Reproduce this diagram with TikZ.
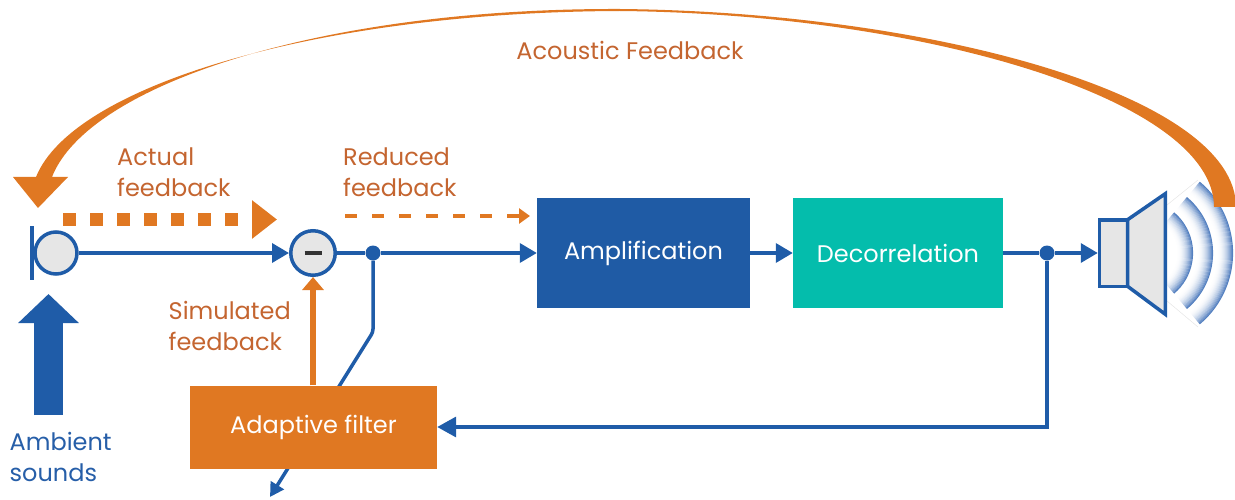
\documentclass[tikz,border=0pt]{standalone}
\usepackage{fontspec}
\setmainfont{Poppins}
\usetikzlibrary{arrows.meta}
\definecolor{cblue}{RGB}{31,92,168}
\definecolor{ampblue}{RGB}{31,91,165}
\definecolor{cteal}{RGB}{4,189,172}
\definecolor{corange}{RGB}{224,120,34}
\definecolor{lorange}{RGB}{196,101,48}
\definecolor{lblue}{RGB}{38,94,168}
\definecolor{cgray}{RGB}{230,230,230}
\definecolor{mgray}{RGB}{51,51,51}
\definecolor{wblue}{RGB}{84,128,192}
\begin{document}
\begin{tikzpicture}[x=1pt,y=-1pt,
  bline/.style={draw=cblue, line width=3.5pt},
  btip/.style={-{Triangle[length=17pt,width=19pt]}},
  dot/.style={circle, fill=cblue, minimum size=15pt, inner sep=0pt},
  procbox/.style={rectangle, inner sep=0pt, text=white, font=\fontsize{24}{29}\selectfont},
  lbl/.style={anchor=west, align=left, inner sep=0pt, text=lorange, font=\fontsize{24}{31}\selectfont},
  ring/.style={circle, draw=cblue, fill=cgray, line width=3.5pt, inner sep=0pt}]
\useasboundingbox (0,0) rectangle (1235,500);

% sound waves (graded arcs)
\coordinate (wc) at (1140,253);
\foreach \R in {53,73,93}{
  \foreach \k in {0,...,15}{
    \pgfmathsetmacro\rad{\R-16+\k+0.5}
    \pgfmathtruncatemacro\pc{100*((\k+1)/16)^2.2}
    \draw[wblue!\pc!white, line width=1.15pt] ([shift={(-50:\rad)}]wc) arc[start angle=-50,end angle=50,radius=\rad];
  }
}
\draw[gray!20, line width=0.5pt] (1167,205) -- (1198,180);
\draw[gray!20, line width=0.5pt] (1167,301) -- (1198,327);

% acoustic feedback arc
\fill[corange] (1236,207) .. controls (1236,95) and (930,12) .. (620,9)
  .. controls (320,8) and (88,85) .. (52,177) -- (68,177) -- (38,208) -- (13,177) -- (36,177)
  .. controls (73,85) and (320,12) .. (620,11)
  .. controls (925,14) and (1214,100) .. (1214,207) -- cycle;
\node[text=lorange, font=\fontsize{24}{29}\selectfont, inner sep=0pt] (acoustic) at (630,50) {Acoustic Feedback};

% microphone
\node[ring, minimum size=42pt] (mic) at (56,253) {};
\coordinate (micT) at (32,226);
\coordinate (micB) at (32,280);
\draw[cblue, line width=3.5pt] (micT) -- (micB);

% subtractor
\node[ring, minimum size=44.5pt] (minus) at (313,253) {};
\draw[mgray, line width=4.5pt] ([xshift=-8.5pt]minus.center) -- ([xshift=8.5pt]minus.center);

\node[dot] (j1) at (373,253) {};
\node[procbox, fill=ampblue, minimum width=213pt, minimum height=110pt] (amp) at (643.5,253) {Amplification};
\node[procbox, fill=cteal, minimum width=210pt, minimum height=110pt] (dec) at (898,253) {Decorrelation};
\node[dot] (j2) at (1047,253) {};

% loudspeaker
\node[rectangle, draw=cblue, fill=cgray, line width=3.5pt, outer sep=0pt, minimum width=28pt, minimum height=66.5pt, inner sep=0pt] (spk) at (1113.5,253) {};
\coordinate (coneT) at (1165.25,193.75);
\coordinate (coneB) at (1165.25,314.25);
\draw[cblue, fill=cgray, line width=3.5pt, line join=miter] (spk.north east) -- (coneT) -- (coneB) -- (spk.south east) -- cycle;

% adaptive-filter update line (behind the filter box)
\coordinate (kink) at (373,332);
\coordinate (adout) at (270,497);
\draw[bline, rounded corners=3pt, -{Triangle[length=14pt,width=15pt]}] (j1) -- (kink) -- (adout);

\node[procbox, fill=corange, minimum width=247pt, minimum height=83pt] (filt) at (313.5,427) {Adaptive filter};

% main signal path
\draw[bline, btip] (mic) -- (minus);
\draw[bline] (minus) -- (j1);
\draw[bline, btip] (j1) -- (amp);
\draw[bline, btip] (amp) -- (dec);
\draw[bline] (dec) -- (j2);
\draw[bline, btip, shorten >=1.75pt] (j2) -- (spk);
\draw[bline, -{Triangle[length=19pt,width=20pt]}] (j2) |- (filt);
\draw[corange, line width=6.5pt, -{Triangle[length=13pt,width=21pt]}] (minus |- filt.north) -- (minus);

% ambient sounds arrow
\coordinate (ambS) at (48.5,415);
\coordinate (ambE) at (48.5,294);
\draw[cblue, line width=29pt, -{Triangle[length=29pt,width=59pt]}] (ambS) -- (ambE);

% feedback indicator arrows
\coordinate (afS) at (63,219.5);
\coordinate (afE) at (277,219.5);
\draw[corange, line width=13pt, dash pattern=on 13pt off 14pt, -{Triangle[length=25pt,width=37pt]}] (afS) -- (afE);
\coordinate (rfS) at (345,216);
\coordinate (rfE) at (530,216);
\draw[corange, line width=4.5pt, dash pattern=on 12pt off 15pt, -{Triangle[length=11pt,width=15pt]}] (rfS) -- (rfE);

% labels
\node[lbl] (actual) at (117,172) {Actual\\feedback};
\node[lbl] (reduced) at (343,172) {Reduced\\feedback};
\node[lbl] (simul) at (168.5,325.5) {Simulated\\feedback};
\node[lbl, text=lblue] (ambient) at (9.5,457) {Ambient\\sounds};
\end{tikzpicture}
\end{document}
